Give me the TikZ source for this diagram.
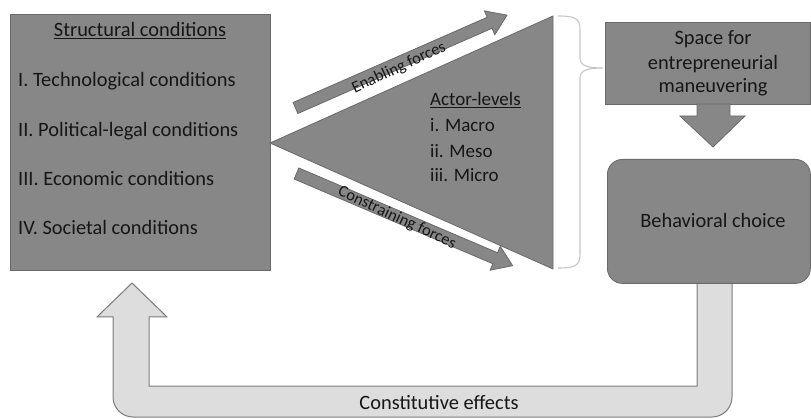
\documentclass[tikz,border=0pt]{standalone}
\usepackage{fontspec}
\setmainfont{Carlito}
\definecolor{boxgray}{HTML}{878787}
\definecolor{edgegray}{HTML}{6A6A6A}
\definecolor{loopgray}{HTML}{DDDDDD}
\definecolor{loopedge}{HTML}{7C7C7C}
\definecolor{bracegray}{HTML}{C4C4C4}
\definecolor{txtcol}{HTML}{161616}
\begin{document}
\begin{tikzpicture}[x=1pt,y=-1pt,
  dark/.style={fill=boxgray, draw=edgegray, line width=0.8pt},
  light/.style={fill=loopgray, draw=loopedge, line width=1pt},
  txt/.style={text=txtcol, font=\fontsize{20.4}{24}\selectfont, inner sep=0pt},
  actortxt/.style={text=txtcol, font=\fontsize{19}{23}\selectfont, inner sep=0pt},
  smalltxt/.style={text=txtcol, font=\fontsize{16.5}{19}\selectfont, inner sep=0pt},
]
\useasboundingbox (0,0) rectangle (811,419);

% feedback loop arrow (constitutive effects)
\coordinate (loopL) at (132,283);
\coordinate (loopR) at (714.5,283);
\draw[light] (113,317) -- (97,317) -- (loopL) -- (167,317) -- (149,317) -- (149,386)
  -- (697,386) -- (697,283) -- (732,283) -- (732,397)
  .. controls (732,408) and (723,417) .. (712,417) -- (133,417)
  .. controls (122,417) and (113,408) .. (113,397) -- cycle;
\node[txt, anchor=base] (ce) at (439,409) {Constitutive effects};

% structural conditions box
\node[dark, anchor=north west, minimum width=260pt, minimum height=256pt, inner sep=0pt] (sc) at (10,14) {};
\node[txt, anchor=base] (sch) at (140,37) {\underline{Structural conditions}};
\node[txt, anchor=base west] (s1) at (18,87) {I. Technological conditions};
\node[txt, anchor=base west] (s2) at (18,137) {II. Political-legal conditions};
\node[txt, anchor=base west] (s3) at (18,186) {III. Economic conditions};
\node[txt, anchor=base west] (s4) at (18,235) {IV. Societal conditions};

% actor-level triangle
\coordinate (apex) at (270,143);
\coordinate (ttop) at (553,16);
\coordinate (tbot) at (553,269);
\draw[dark] (apex) -- (ttop) -- (tbot) -- cycle;
\node[actortxt, anchor=base west] (a0) at (430,106) {\underline{Actor-levels}};
\node[actortxt, anchor=base west] (a1) at (430,132) {i. Macro};
\node[actortxt, anchor=base west] (a2) at (430,158) {ii. Meso};
\node[actortxt, anchor=base west] (a3) at (430,182) {iii. Micro};

% enabling forces arrow
\begin{scope}[shift={(295.5,108)}, rotate=23.7]
  \draw[dark] (0,-6) -- (212,-6) -- (212,-13) -- (231,0) -- (212,13) -- (212,6) -- (0,6) -- cycle;
\end{scope}
\node[smalltxt, rotate=25] (ef) at (399,68) {Enabling forces};

% constraining forces arrow
\begin{scope}[shift={(296.5,173.5)}, rotate=-23.1]
  \draw[dark] (0,-6) -- (216,-6) -- (216,-13) -- (235,0) -- (216,13) -- (216,6) -- (0,6) -- cycle;
\end{scope}
\node[smalltxt, rotate=-25] (cf) at (397,218) {Constraining forces};

% brace
\draw[bracegray, line width=1.1pt] (558,16) .. controls (575,16) and (580,18) .. (580,30) -- (580,58)
  .. controls (580,66) and (588,68) .. (603,68)
  .. controls (588,68) and (580,70) .. (580,78) -- (580,254)
  .. controls (580,266) and (575,268) .. (558,268);

% space for entrepreneurial maneuvering
\node[dark, anchor=north west, minimum width=205pt, minimum height=82pt, inner sep=0pt] (sp) at (605,22) {};
\node[txt, anchor=base] (sp1) at (713,45) {Space for};
\node[txt, anchor=base] (sp2) at (713,70) {entrepreneurial};
\node[txt, anchor=base] (sp3) at (713,93) {maneuvering};

% down arrow
\draw[dark] (697,104) -- (730,104) -- (730,116) -- (745,116) -- (713,147) -- (680,116) -- (697,116) -- cycle;

% behavioral choice
\node[dark, rounded corners=15pt, anchor=north west, minimum width=203pt, minimum height=124pt, inner sep=0pt] (bc) at (607,159) {};
\node[txt, anchor=base] (bct) at (713,228) {Behavioral choice};
\end{tikzpicture}
\end{document}
